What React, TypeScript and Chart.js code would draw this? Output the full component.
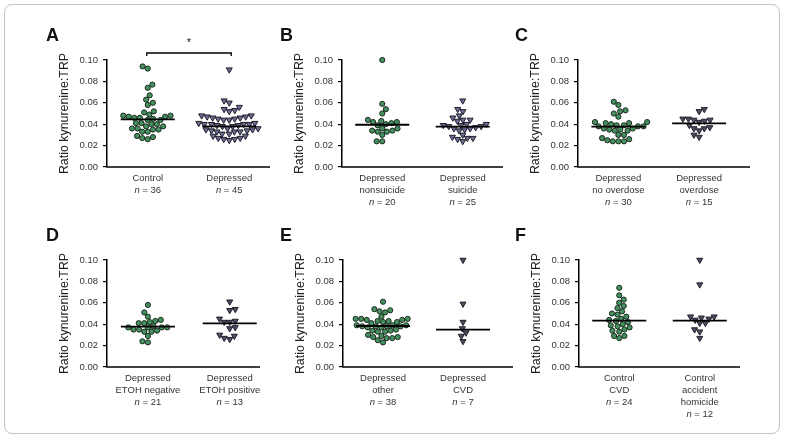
import React, { useEffect, useRef } from 'react';
import { Chart, registerables } from 'chart.js';
Chart.register(...registerables);

const FONT = '"Liberation Sans", Arial, Helvetica, sans-serif';

// ---------- data ----------
const yTickValues = [0, 0.02, 0.04, 0.06, 0.08, 0.1];
const yTitle = 'Ratio kynurenine:TRP';

const aControl = [0.094, 0.092, 0.077, 0.074, 0.067, 0.063, 0.060, 0.058, 0.052, 0.051,
  0.049, 0.048, 0.047, 0.046, 0.044, 0.044, 0.045, 0.046, 0.047, 0.048,
  0.041, 0.040, 0.038, 0.036, 0.035, 0.035, 0.036, 0.038, 0.040, 0.041,
  0.033, 0.028, 0.026, 0.027, 0.029, 0.033];
const aDepressed = [0.091, 0.062, 0.060, 0.056, 0.054, 0.053, 0.052,
  0.048, 0.047, 0.046, 0.045, 0.044, 0.044, 0.045, 0.046, 0.047, 0.048,
  0.041, 0.040, 0.040, 0.039, 0.038, 0.038, 0.039, 0.040, 0.040, 0.041,
  0.036, 0.035, 0.034, 0.033, 0.033, 0.033, 0.034, 0.035, 0.036,
  0.031, 0.029, 0.027, 0.026, 0.025, 0.026, 0.027, 0.029, 0.031];
const bNonsuicide = [0.100, 0.059, 0.054, 0.050, 0.044, 0.042, 0.041, 0.042, 0.043, 0.040,
  0.039, 0.036, 0.034, 0.033, 0.034, 0.036, 0.030, 0.033, 0.024, 0.024];
const bSuicide = [0.062, 0.054, 0.052, 0.048, 0.046, 0.044, 0.043, 0.044, 0.040, 0.039,
  0.038, 0.037, 0.038, 0.039, 0.040, 0.036, 0.035, 0.034, 0.036, 0.028,
  0.027, 0.024, 0.026, 0.027, 0.030];
const cNoOverdose = [0.061, 0.058, 0.053, 0.052, 0.050, 0.047,
  0.042, 0.041, 0.040, 0.041, 0.042,
  0.039, 0.038, 0.038, 0.038, 0.039,
  0.036, 0.035, 0.034, 0.034, 0.035, 0.036,
  0.030, 0.026, 0.024, 0.024, 0.024, 0.025, 0.027, 0.030];
const cOverdose = [0.054, 0.052, 0.045, 0.044, 0.043, 0.042, 0.044, 0.045, 0.039, 0.037,
  0.036, 0.034, 0.036, 0.028, 0.030];
const dEtohNeg = [0.058, 0.051, 0.047, 0.044, 0.042, 0.041, 0.041, 0.043, 0.038, 0.037,
  0.037, 0.037, 0.037, 0.035, 0.033, 0.033, 0.034, 0.035, 0.029, 0.023, 0.024];
const dEtohPos = [0.061, 0.054, 0.053, 0.045, 0.042, 0.042, 0.043, 0.037, 0.036, 0.029,
  0.026, 0.027, 0.030];
const eOther = [0.061, 0.054, 0.053, 0.052, 0.051, 0.047,
  0.045, 0.045, 0.044, 0.043, 0.042, 0.041, 0.042, 0.043, 0.044, 0.045,
  0.039, 0.038, 0.038, 0.037, 0.037, 0.038, 0.038, 0.039, 0.039,
  0.035, 0.034, 0.033, 0.033, 0.034,
  0.029, 0.028, 0.027, 0.023, 0.025, 0.027, 0.028, 0.030];
const eCVD = [0.100, 0.059, 0.042, 0.036, 0.032, 0.029, 0.024];
const fControlCVD = [0.074, 0.067, 0.063, 0.060, 0.057, 0.055, 0.052, 0.050, 0.049, 0.047,
  0.045, 0.044, 0.043, 0.042, 0.040, 0.039, 0.038, 0.037, 0.035, 0.034,
  0.033, 0.029, 0.029, 0.027];
const fAccident = [0.100, 0.077, 0.047, 0.046, 0.047, 0.044, 0.045, 0.041, 0.041, 0.035,
  0.033, 0.027];

// medians (horizontal lines)
const medA = [0.0445, 0.038];
const medB = [0.0395, 0.0378];
const medC = [0.0377, 0.0408];
const medD = [0.0377, 0.0408];
const medE = [0.0383, 0.0349];
const medF = [0.0433, 0.0433];

const labelsA = [['Control'], ['Depressed']];
const labelsB = [['Depressed', 'nonsuicide'], ['Depressed', 'suicide']];
const labelsC = [['Depressed', 'no overdose'], ['Depressed', 'overdose']];
const labelsD = [['Depressed', 'ETOH negative'], ['Depressed', 'ETOH positive']];
const labelsE = [['Depressed', 'other'], ['Depressed', 'CVD']];
const labelsF = [['Control', 'CVD'], ['Control', 'accident', 'homicide']];

const nA = [36, 45];
const nB = [20, 25];
const nC = [30, 15];
const nD = [21, 13];
const nE = [38, 7];
const nF = [24, 12];

// ---------- styles ----------
const GREEN_FILL = '#44915f';
const GREEN_EDGE = '#1d2b20';
const TRI_LIGHT = '#6c6c94';
const TRI_DARK = '#4d4d62';
const TRI_EDGE = '#20202c';

type Group = { values: number[]; labels: string[]; n: number; median: number; shape: 'circle' | 'triangle'; fill: string };
type PanelCfg = {
  letter: string; left: number; top: number; width: number; height: number;
  area: { l: number; r: number; t: number; b: number }; xMax: number;
  letterX: number; letterY: number; groups: Group[]; bracket?: boolean;
};

const mk = (vals: number[][], meds: number[], labels: string[][], ns: number[], tri: string): Group[] => [
  { values: vals[0], labels: labels[0], n: ns[0], median: meds[0], shape: 'circle', fill: GREEN_FILL },
  { values: vals[1], labels: labels[1], n: ns[1], median: meds[1], shape: 'triangle', fill: tri },
];

const panels: PanelCfg[] = [
  { letter: 'A', left: 20, top: 12, width: 255, height: 203, area: { l: 107, r: 270, t: 60, b: 167 }, xMax: 2.0, letterX: 46, letterY: 36,
    groups: mk([aControl, aDepressed], medA, labelsA, nA, TRI_LIGHT), bracket: true },
  { letter: 'B', left: 272, top: 12, width: 246, height: 203, area: { l: 342, r: 503, t: 60, b: 167 }, xMax: 2.0, letterX: 280, letterY: 36,
    groups: mk([bNonsuicide, bSuicide], medB, labelsB, nB, TRI_LIGHT) },
  { letter: 'C', left: 512, top: 12, width: 266, height: 203, area: { l: 578, r: 750, t: 60, b: 167 }, xMax: 2.13, letterX: 515, letterY: 36,
    groups: mk([cNoOverdose, cOverdose], medC, labelsC, nC, TRI_DARK) },
  { letter: 'D', left: 20, top: 215, width: 255, height: 218, area: { l: 107, r: 260, t: 260, b: 367 }, xMax: 1.87, letterX: 46, letterY: 236,
    groups: mk([dEtohNeg, dEtohPos], medD, labelsD, nD, TRI_DARK) },
  { letter: 'E', left: 272, top: 215, width: 246, height: 218, area: { l: 343, r: 513, t: 260, b: 367 }, xMax: 2.125, letterX: 280, letterY: 236,
    groups: mk([eOther, eCVD], medE, labelsE, nE, TRI_DARK) },
  { letter: 'F', left: 512, top: 215, width: 266, height: 218, area: { l: 579, r: 740, t: 260, b: 367 }, xMax: 2.0, letterX: 515, letterY: 236,
    groups: mk([fControlCVD, fAccident], medF, labelsF, nF, TRI_DARK) },
];

// beeswarm offsets (pixels) computed from values
function swarmOffsets(values: number[], pxPerVal: number, d: number): number[] {
  const idx = values.map((_, i) => i).sort((a, b) => values[a] - values[b]);
  const placed: { x: number; y: number }[] = [];
  const out = new Array(values.length).fill(0);
  for (const i of idx) {
    const y = values[i] * pxPerVal;
    const cands = [0];
    for (const p of placed) {
      const dy = Math.abs(p.y - y);
      if (dy < d) {
        const dx = Math.sqrt(d * d - dy * dy);
        cands.push(p.x + dx, p.x - dx);
      }
    }
    const lc = placed.filter((p) => p.x < -0.01).length;
    const rc = placed.filter((p) => p.x > 0.01).length;
    const pref = lc <= rc ? -1 : 1;
    cands.sort((a, b) => {
      const da = Math.abs(a) - Math.abs(b);
      if (Math.abs(da) > 1e-6) return da;
      return (Math.sign(a) === pref ? -1 : 1) - (Math.sign(b) === pref ? -1 : 1);
    });
    let best = 0;
    for (const c of cands) {
      if (placed.every((p) => (p.x - c) ** 2 + (p.y - y) ** 2 >= d * d - 1e-6)) { best = c; break; }
    }
    placed.push({ x: best, y });
    out[i] = best;
  }
  return out;
}

function PanelChart({ cfg }: { cfg: PanelCfg }) {
  const ref = useRef<HTMLCanvasElement>(null);
  useEffect(() => {
    if (!ref.current) return;
    const { area, xMax } = cfg;
    const pxPerX = (area.r - area.l) / xMax;
    const pxPerVal = (area.b - area.t) / 0.1;
    const positions = [0.5, 1.5];
    const datasets = cfg.groups.map((g, gi) => {
      const offs = swarmOffsets(g.values, pxPerVal, 5.6);
      return {
        data: g.values.map((v, i) => ({ x: positions[gi] + offs[i] / pxPerX, y: v })),
        pointStyle: g.shape,
        rotation: g.shape === 'triangle' ? 180 : 0,
        pointRadius: g.shape === 'triangle' ? 3.5 : 2.6,
        pointBackgroundColor: g.fill,
        pointBorderColor: g.shape === 'triangle' ? TRI_EDGE : GREEN_EDGE,
        pointBorderWidth: 1,
        showLine: false,
        clip: false as any,
      };
    });

    const overlay = {
      id: 'overlay',
      afterDatasetsDraw(chart: any) {
        const ctx = chart.ctx as CanvasRenderingContext2D;
        const ca = chart.chartArea;
        const xs = chart.scales.x;
        const ys = chart.scales.y;
        ctx.save();
        // medians
        ctx.strokeStyle = '#000';
        ctx.lineWidth = 1.8;
        cfg.groups.forEach((g, gi) => {
          const xc = xs.getPixelForValue(positions[gi]);
          const y = ys.getPixelForValue(g.median);
          ctx.beginPath();
          ctx.moveTo(xc - 27, y);
          ctx.lineTo(xc + 27, y);
          ctx.stroke();
        });
        // x axis line
        ctx.lineWidth = 1.5;
        ctx.beginPath();
        ctx.moveTo(ca.left - 0.75, ca.bottom);
        ctx.lineTo(ca.right, ca.bottom);
        ctx.stroke();
        // category labels
        ctx.fillStyle = '#333';
        ctx.textBaseline = 'middle';
        cfg.groups.forEach((g, gi) => {
          const xc = xs.getPixelForValue(positions[gi]);
          let y = ca.bottom + 11;
          ctx.font = `9.5px ${FONT}`;
          ctx.textAlign = 'center';
          g.labels.forEach((l) => { ctx.fillText(l, xc, y); y += 12; });
          const rest = ` = ${g.n}`;
          ctx.font = `italic 9.5px ${FONT}`;
          const wn = ctx.measureText('n').width;
          ctx.font = `9.5px ${FONT}`;
          const wr = ctx.measureText(rest).width;
          const x0 = xc - (wn + wr) / 2;
          ctx.textAlign = 'left';
          ctx.font = `italic 9.5px ${FONT}`;
          ctx.fillText('n', x0, y);
          ctx.font = `9.5px ${FONT}`;
          ctx.fillText(rest, x0 + wn, y);
        });
        // y title
        ctx.save();
        ctx.translate(ca.left - 42, (ca.top + ca.bottom) / 2);
        ctx.rotate(-Math.PI / 2);
        ctx.textAlign = 'center';
        ctx.textBaseline = 'middle';
        ctx.fillStyle = '#222';
        ctx.font = `12.4px ${FONT}`;
        ctx.fillText(yTitle, 0, 0);
        ctx.restore();
        // panel letter
        ctx.fillStyle = '#111';
        ctx.font = `bold 18px ${FONT}`;
        ctx.textAlign = 'left';
        ctx.textBaseline = 'middle';
        ctx.fillText(cfg.letter, cfg.letterX - cfg.left, cfg.letterY - cfg.top);
        // significance bracket
        if (cfg.bracket) {
          const x1 = xs.getPixelForValue(positions[0]) - 1;
          const x2 = xs.getPixelForValue(positions[1]) + 2;
          const yb = ca.top - 7;
          ctx.strokeStyle = '#000';
          ctx.lineWidth = 1.3;
          ctx.beginPath();
          ctx.moveTo(x1, yb + 3);
          ctx.lineTo(x1, yb);
          ctx.lineTo(x2, yb);
          ctx.lineTo(x2, yb + 3);
          ctx.stroke();
          ctx.fillStyle = '#222';
          ctx.font = `11px ${FONT}`;
          ctx.textAlign = 'center';
          ctx.fillText('*', (x1 + x2) / 2, yb - 10);
        }
        ctx.restore();
      },
    };

    const chart = new Chart(ref.current, {
      type: 'scatter',
      data: { datasets: datasets as any },
      plugins: [overlay],
      options: {
        animation: false,
        responsive: false,
        devicePixelRatio: 1,
        events: [],
        layout: {
          padding: {
            left: 0,
            top: area.t - cfg.top,
            right: cfg.left + cfg.width - area.r,
            bottom: cfg.top + cfg.height - area.b,
          },
        },
        plugins: { legend: { display: false }, tooltip: { enabled: false }, title: { display: false } },
        scales: {
          x: { type: 'linear', display: false, min: 0, max: xMax },
          y: {
            type: 'linear',
            min: 0,
            max: 0.1,
            afterFit: (s: any) => { s.width = area.l - cfg.left; },
            afterBuildTicks: (s: any) => { s.ticks = yTickValues.map((v) => ({ value: v })); },
            ticks: {
              callback: (v: any) => Number(v).toFixed(2),
              font: { family: FONT, size: 9.5 },
              color: '#333',
              padding: 5,
            },
            grid: { drawOnChartArea: false, drawTicks: true, tickLength: 4, color: '#000', lineWidth: 1.2 },
            border: { display: true, color: '#000', width: 1.5 },
          },
        },
      },
    });
    return () => chart.destroy();
  }, [cfg]);
  return (
    <canvas
      ref={ref}
      width={cfg.width}
      height={cfg.height}
      style={{ position: 'absolute', left: cfg.left, top: cfg.top, width: cfg.width, height: cfg.height }}
    />
  );
}

export default function App() {
  return (
    <div style={{ position: 'absolute', left: 0, top: 0, width: 785, height: 438, background: '#fff', overflow: 'hidden' }}>
      <div style={{ position: 'absolute', left: 4, top: 4, width: 774, height: 428, border: '1px solid #c4c4c4', borderRadius: 8 }} />
      {panels.map((p) => (
        <PanelChart key={p.letter} cfg={p} />
      ))}
    </div>
  );
}
